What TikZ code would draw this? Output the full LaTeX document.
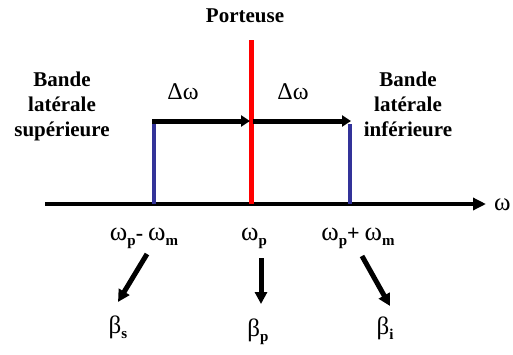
\documentclass[tikz,border=0pt]{standalone}
\usepackage{fontspec}
\setmainfont{Liberation Serif}
\usetikzlibrary{arrows.meta}
\definecolor{bandblue}{RGB}{51,51,153}
\newcommand\wsub[1]{{\fontsize{26.5}{26.5}\selectfont\mdseries ω}\raisebox{-5pt}{\fontsize{15}{15}\selectfont\bfseries #1}}
\newcommand\bsub[1]{{\fontsize{25}{25}\selectfont\mdseries β}\raisebox{-5pt}{\fontsize{15}{15}\selectfont\bfseries #1}}
\begin{document}
\begin{tikzpicture}[x=1pt,y=-1pt,
  lbl/.style={font=\bfseries\fontsize{21}{25}\selectfont, align=center, inner sep=0pt},
  glbl/.style={font=\bfseries, inner sep=0pt},
  axisline/.style={line width=4.5pt, -{Triangle[length=13pt,width=12pt]}},
  shiftarrow/.style={line width=5pt, -{Triangle[length=9pt,width=11pt]}},
  maparrow/.style={line width=5pt, -{Triangle[length=12pt,width=12pt]}},
  carrier/.style={line width=5pt, red},
  sideband/.style={line width=4.5pt, bandblue}]
\useasboundingbox (0,0) rectangle (513,354);
% axis
\coordinate (ax0) at (45,204);
\coordinate (ax1) at (486,204);
\draw[axisline] (ax0) -- (ax1);
\node[glbl, anchor=west] (om) at (494,205) {\fontsize{25}{25}\selectfont\mdseries ω};
% carrier and sidebands
\coordinate (cTop) at (251,40);
\coordinate (cBot) at (251,204);
\draw[carrier] (cTop) -- (cBot);
\coordinate (lTop) at (154,124);
\coordinate (lBot) at (154,204);
\draw[sideband] (lTop) -- (lBot);
\coordinate (rTop) at (350,124);
\coordinate (rBot) at (350,204);
\draw[sideband] (rTop) -- (rBot);
% shift arrows
\coordinate (a1s) at (152,121);
\coordinate (a1e) at (250,121);
\coordinate (a2s) at (253,121);
\coordinate (a2e) at (351,121);
\draw[shiftarrow] (a1s) -- (a1e);
\draw[shiftarrow] (a2s) -- (a2e);
\node[glbl] (dw1) at (183,92) {\fontsize{24}{24}\selectfont\mdseries Δω};
\node[glbl] (dw2) at (293,92) {\fontsize{24}{24}\selectfont\mdseries Δω};
% texts
\node[lbl] (port) at (245,16) {Porteuse};
\node[lbl] (bls) at (62,106) {Bande\\latérale\\supérieure};
\node[lbl] (bli) at (408,104) {Bande\\latérale\\inférieure};
% frequencies
\node[glbl] (fm) at (144,238) {\wsub{p}{\fontsize{22}{22}\selectfont -}\hspace{5pt}\wsub{m}};
\node[glbl] (fp) at (254,238) {\wsub{p}};
\node[glbl] (fpl) at (358,238) {\wsub{p}{\fontsize{22}{22}\selectfont +}\hspace{5pt}\wsub{m}};
% betas
\node[glbl] (bs) at (118,327) {\bsub{s}};
\node[glbl] (bp) at (258,332) {\bsub{p}};
\node[glbl] (bi) at (385,328) {\bsub{i}};
% mapping arrows
\coordinate (m1s) at (147,254);
\coordinate (m1e) at (118,302);
\coordinate (m2s) at (261,258);
\coordinate (m2e) at (261,304);
\coordinate (m3s) at (362,256);
\coordinate (m3e) at (390,306);
\draw[maparrow] (m1s) -- (m1e);
\draw[maparrow] (m2s) -- (m2e);
\draw[maparrow] (m3s) -- (m3e);
\end{tikzpicture}
\end{document}
